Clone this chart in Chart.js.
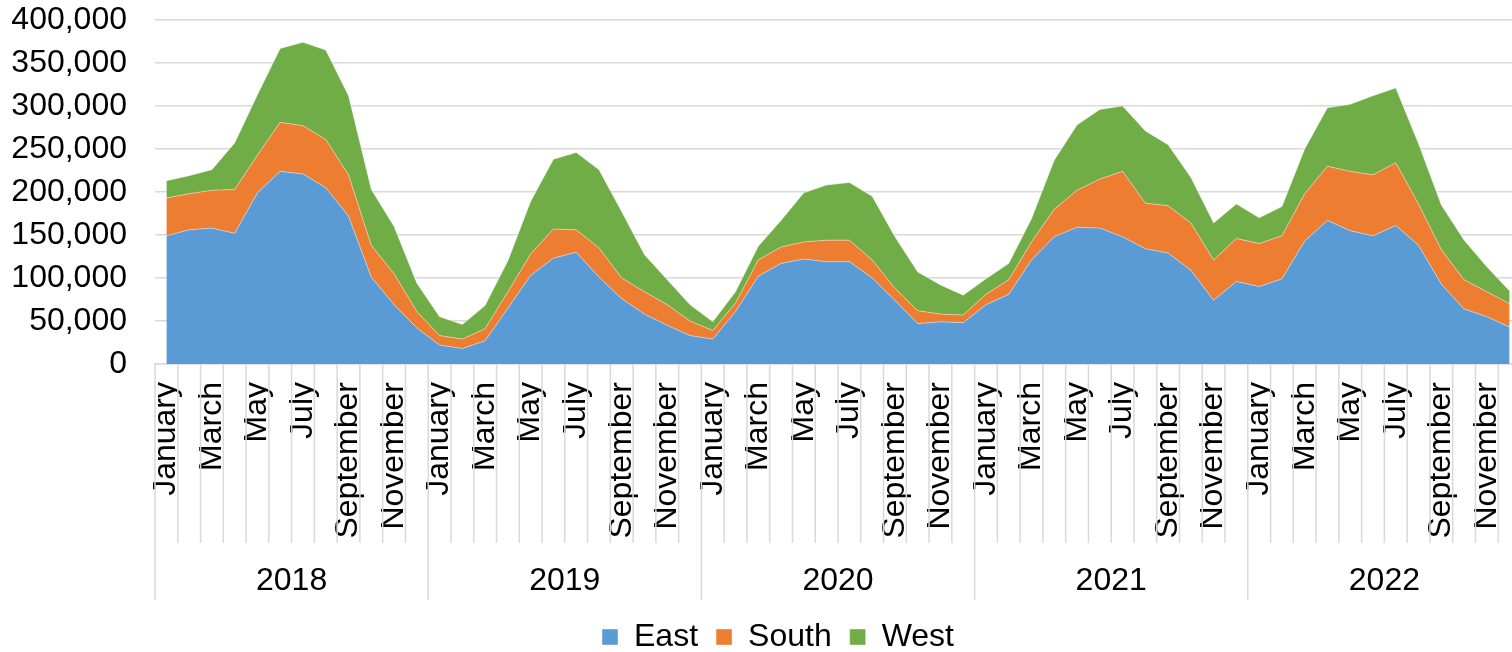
<!DOCTYPE html>
<html>
<head>
  <meta charset="UTF-8">
  <title>Regional totals by month</title>
  <script src="https://cdn.jsdelivr.net/npm/chart.js"></script>
  <style>
    html, body {
      margin: 0;
      padding: 0;
      background: #fff;
      overflow: hidden;
    }

    .chart-box {
      width: 1556px;
      height: 663px;
    }
  </style>
</head>
<body>
  <div class="chart-box">
    <canvas id="mainChart"></canvas>
  </div>

  <script>
    const years = ['2018', '2019', '2020', '2021', '2022'];
    const months = ['January', 'February', 'March', 'April', 'May', 'June', 'July',
      'August', 'September', 'October', 'November', 'December'];

    // values, in thousands
    const east = [
      149, 156, 158, 152, 199, 224, 221, 205, 172, 101, 69, 42,
      22, 18, 27, 65, 103, 123, 130, 101, 76, 58, 45, 33,
      29, 61, 102, 117, 122, 119, 119, 100, 74, 47, 49, 48,
      69, 81, 121, 148, 159, 158, 148, 134, 129, 109, 74, 96,
      90, 99, 143, 167, 155, 149, 161, 138, 93, 64, 55, 43
    ];
    const south = [
      44, 42, 44, 51, 44, 57, 56, 56, 48, 37, 36, 19,
      11, 11, 14, 19, 25, 34, 26, 34, 24, 26, 24, 17,
      10, 10, 19, 19, 20, 25, 25, 21, 14, 15, 9, 9,
      12, 17, 21, 32, 43, 57, 76, 53, 55, 55, 47, 50,
      50, 50, 55, 63, 69, 71, 73, 48, 40, 34, 29, 27
    ];
    const west = [
      20, 21, 24, 54, 70, 86, 97, 104, 92, 65, 55, 33,
      22, 17, 27, 36, 61, 81, 90, 91, 77, 43, 29, 19,
      10, 13, 16, 31, 57, 64, 67, 74, 60, 45, 34, 23,
      18, 19, 27, 57, 76, 81, 76, 84, 71, 53, 43, 40,
      30, 34, 52, 68, 78, 92, 87, 70, 52, 46, 29, 15
    ];

    const labels = years.flatMap(() => months);
    const gridColor = '#d9d9d9';
    const fontFamily = '"Liberation Sans", Arial, sans-serif';
    const fontSize = 32;

    // month separators, year separators and year names under the axis
    const groupAxis = {
      id: 'groupAxis',
      afterDraw(chart) {
        const x = chart.scales.x;
        const ctx = chart.ctx;
        const top = chart.chartArea.bottom;
        const half = (x.getPixelForValue(1) - x.getPixelForValue(0)) / 2;
        ctx.save();
        ctx.strokeStyle = gridColor;
        ctx.lineWidth = 1.5;
        for (let i = 0; i < labels.length; i++) {
          const edge = x.getPixelForValue(i) - half;
          const bottom = i % 12 === 0 ? 600 : 543;
          ctx.beginPath();
          ctx.moveTo(edge, top);
          ctx.lineTo(edge, bottom);
          ctx.stroke();
        }
        ctx.fillStyle = '#000';
        ctx.font = fontSize + 'px ' + fontFamily;
        ctx.textAlign = 'center';
        ctx.textBaseline = 'middle';
        years.forEach((year, k) => {
          const start = x.getPixelForValue(k * 12) - half;
          const end = x.getPixelForValue(k * 12 + 11) + half;
          ctx.fillText(year, (start + end) / 2, 581);
        });
        ctx.restore();
      }
    };

    const ctx = document.getElementById('mainChart').getContext('2d');
    new Chart(ctx, {
      type: 'line',
      data: {
        labels: labels,
        datasets: [
          { label: 'East', data: east.map(v => v * 1000), backgroundColor: '#5b9bd5', fill: 'origin' },
          { label: 'South', data: south.map(v => v * 1000), backgroundColor: '#ed7d31', fill: '-1' },
          { label: 'West', data: west.map(v => v * 1000), backgroundColor: '#70ad47', fill: '-1' }
        ].map(d => Object.assign(d, {
          borderColor: 'rgba(255,255,255,0.55)',
          borderWidth: 0.75,
          pointRadius: 0,
          pointHoverRadius: 0,
          tension: 0
        }))
      },
      options: {
        responsive: true,
        maintainAspectRatio: false,
        animation: false,
        layout: {
          padding: { top: 20, right: 0, left: 0, bottom: 0 }
        },
        plugins: {
          tooltip: { enabled: false },
          legend: {
            position: 'bottom',
            labels: {
              boxWidth: 16,
              boxHeight: 16,
              padding: 18,
              color: '#000',
              font: { family: fontFamily, size: fontSize }
            }
          }
        },
        scales: {
          x: {
            offset: true,
            grid: {
              display: true,
              offset: true,
              drawOnChartArea: false,
              drawTicks: true,
              tickLength: 10,
              tickColor: 'rgba(0,0,0,0)'
            },
            border: { display: true, color: gridColor, width: 1.5 },
            ticks: {
              autoSkip: false,
              minRotation: 90,
              maxRotation: 90,
              padding: 8,
              color: '#000',
              font: { family: fontFamily, size: fontSize },
              callback: function (value, index) {
                return index % 2 === 0 ? this.getLabelForValue(value) : '';
              }
            },
            afterFit: function (scale) {
              scale.height = 239;
            }
          },
          y: {
            stacked: true,
            min: 0,
            max: 400000,
            grid: {
              color: gridColor,
              lineWidth: 1.5,
              drawTicks: true,
              tickLength: 28,
              tickColor: 'rgba(0,0,0,0)'
            },
            border: { display: false },
            ticks: {
              autoSkip: false,
              stepSize: 50000,
              padding: 0,
              color: '#000',
              font: { family: fontFamily, size: fontSize },
              callback: value => value.toLocaleString('en-US')
            },
            afterFit: function (scale) {
              scale.width = 155;
            }
          }
        }
      },
      plugins: [groupAxis]
    });
  </script>
</body>
</html>
